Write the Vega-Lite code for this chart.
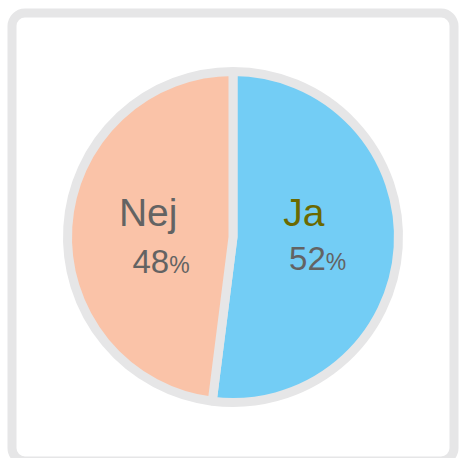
{
  "$schema": "https://vega.github.io/schema/vega-lite/v6.json",
  "autosize": {"type": "none"},
  "width": 442,
  "height": 448,
  "padding": {"left": 12, "top": 13, "right": 6, "bottom": -3},
  "background": "white",
  "view": {"stroke": "#E6E6E7", "strokeWidth": 9, "cornerRadius": 13, "fill": "white"},
  "config": {
    "view": {"stroke": "#E6E6E7", "strokeWidth": 9, "cornerRadius": 13, "fill": "white"},
    "text": {"font": "Liberation Sans"}
  },
  "data": {"values": [
    {"cat": "Ja", "value": 52},
    {"cat": "Nej", "value": 48}
  ]},
  "encoding": {
    "theta": {"field": "value", "type": "quantitative", "stack": true},
    "order": {"field": "cat", "sort": "ascending"}
  },
  "layer": [
    {
      "mark": {"type": "arc", "radius": 165.5, "stroke": "#E6E6E7", "strokeWidth": 9, "strokeJoin": "bevel"},
      "encoding": {
        "color": {"field": "cat", "type": "nominal", "legend": null,
          "scale": {"domain": ["Ja", "Nej"], "range": ["#73CDF5", "#FAC3A8"]}}
      }
    },
    {
      "mark": {"type": "text", "radius": 71, "dy": -15, "fontSize": 39, "align": "center", "baseline": "alphabetic", "color": "#6B6900"},
      "encoding": {"text": {"condition": {"test": "datum.cat === 'Ja'", "field": "cat"}, "value": ""}}
    },
    {
      "mark": {"type": "text", "radius": 85, "dy": -5.5, "fontSize": 39, "align": "center", "baseline": "alphabetic", "color": "#636363"},
      "encoding": {"text": {"condition": {"test": "datum.cat === 'Nej'", "field": "cat"}, "value": ""}}
    },
    {
      "mark": {"type": "text", "radius": 93, "dy": 27, "fontSize": 33, "align": "right", "baseline": "alphabetic", "color": "#636363"},
      "encoding": {"text": {"condition": {"test": "datum.cat === 'Ja'", "field": "value", "type": "quantitative"}, "value": ""}}
    },
    {
      "mark": {"type": "text", "radius": 93, "dy": 27, "fontSize": 23, "align": "left", "baseline": "alphabetic", "color": "#636363"},
      "encoding": {"text": {"condition": {"test": "datum.cat === 'Ja'", "value": "%"}, "value": ""}}
    },
    {
      "mark": {"type": "text", "radius": 64, "dy": 40, "fontSize": 33, "align": "right", "baseline": "alphabetic", "color": "#636363"},
      "encoding": {"text": {"condition": {"test": "datum.cat === 'Nej'", "field": "value", "type": "quantitative"}, "value": ""}}
    },
    {
      "mark": {"type": "text", "radius": 64, "dy": 40, "fontSize": 23, "align": "left", "baseline": "alphabetic", "color": "#636363"},
      "encoding": {"text": {"condition": {"test": "datum.cat === 'Nej'", "value": "%"}, "value": ""}}
    }
  ]
}
